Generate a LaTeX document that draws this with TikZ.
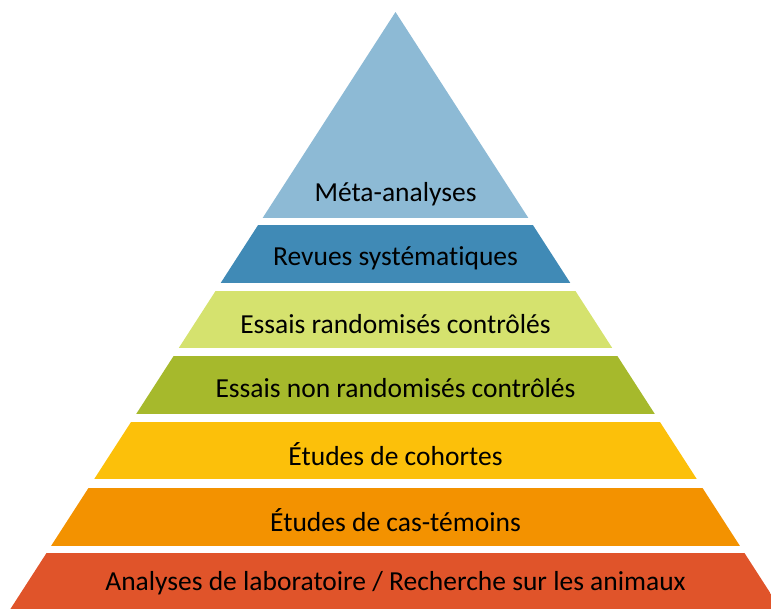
\documentclass[tikz,border=0pt]{standalone}
\usepackage{fontspec}
\setmainfont{Carlito}[Ligatures=NoCommon]
\definecolor{metablue}{RGB}{141,186,213}
\definecolor{revblue}{RGB}{64,138,182}
\definecolor{ercgreen}{RGB}{213,226,110}
\definecolor{enrcgreen}{RGB}{166,185,44}
\definecolor{cohyellow}{RGB}{252,192,10}
\definecolor{casorange}{RGB}{243,146,0}
\definecolor{labored}{RGB}{224,84,42}

\begin{document}
\begin{tikzpicture}[x=1pt,y=-1pt,font=\fontsize{27.5}{32}\selectfont]
\useasboundingbox (0,0) rectangle (771,608);
\clip (0,0) rectangle (771,608);
\coordinate (apex) at (395.5,12);
\coordinate (baseL) at (3.3,620);
\coordinate (baseR) at (787.7,620);
\begin{scope}
\clip (apex) -- (baseL) -- (baseR) -- cycle;
\fill[metablue]  (0,0)   rectangle (771,218);
\fill[revblue]   (0,225) rectangle (771,283);
\fill[ercgreen]  (0,291) rectangle (771,348);
\fill[enrcgreen] (0,356) rectangle (771,414);
\fill[cohyellow] (0,422) rectangle (771,479);
\fill[casorange] (0,488) rectangle (771,546);
\fill[labored]   (0,553) rectangle (771,620);
\end{scope}
\node (meta)     at (395.5,194) {Méta-analyses};
\node (revues)   at (395.5,258) {Revues systématiques};
\node (erc)      at (395.5,324) {Essais randomisés contrôlés};
\node (enrc)     at (395.5,388) {Essais non randomisés contrôlés};
\node (cohortes) at (395.5,454) {Études de cohortes};
\node (castem)   at (395.5,520) {Études de cas-témoins};
\node (labo)     at (395.5,583) {Analyses de laboratoire / Recherche sur les animaux};
\end{tikzpicture}
\end{document}
